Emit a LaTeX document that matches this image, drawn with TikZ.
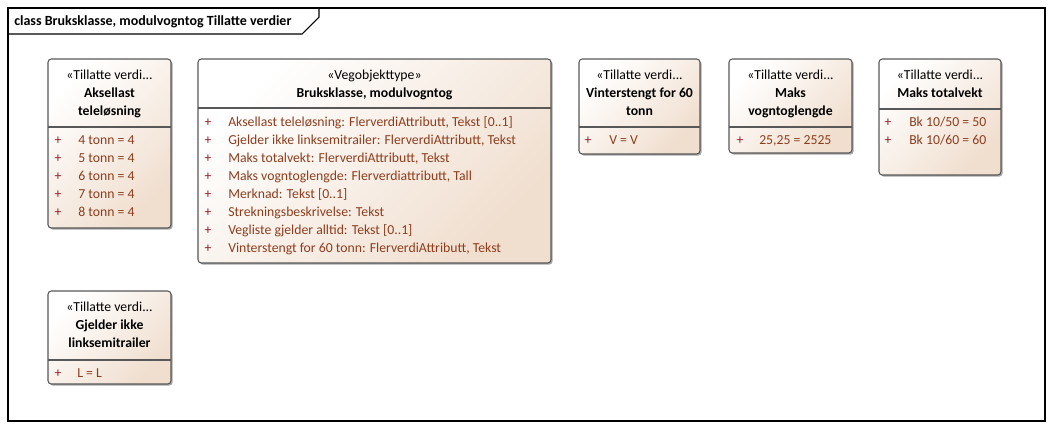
\documentclass[tikz,border=0pt]{standalone}
\usepackage{fontspec}
\setmainfont{Carlito}
\usetikzlibrary{shadows}

\definecolor{boxfill}{RGB}{240,222,206}
\definecolor{boxline}{RGB}{88,88,88}
\definecolor{attrtext}{RGB}{140,62,30}
\definecolor{attrplus}{RGB}{150,30,40}

\begin{document}
\begin{tikzpicture}[x=0.75pt, y=-0.75pt,
		umlbox/.style={draw=boxline, line width=0.8pt, rounded corners=2.5pt,
			top color=white, bottom color=boxfill, shading angle=45,
			drop shadow={shadow xshift=1.2pt, shadow yshift=-1.2pt, fill=black, opacity=0.35}},
		sep/.style={draw=boxline, line width=0.8pt},
		txt/.style={inner sep=0pt, text height=9pt, text depth=2pt, font=\fontsize{10.3}{12}\selectfont},
		stereo/.style={txt},
		title/.style={txt, font=\fontsize{10.3}{12}\selectfont\bfseries},
		plus/.style={txt, text=attrplus},
		attr/.style={txt, anchor=west, text=attrtext}]
			\useasboundingbox (0,0) rectangle (1053,429);
			% frame
			\draw[line width=0.8pt] (8,8) rectangle (1045,421);
			\draw[line width=0.8pt] (8,34) -- (302,34) -- (319,17) -- (319,8);
			\node[txt, anchor=west, font=\fontsize{10.5}{12}\selectfont\bfseries] (frametitle) at (14,21) {class Bruksklasse, modulvogntog Tillatte verdier};
			% Aksellast teleloesning
			\draw[umlbox] (48,59) rectangle (171,228);
			\draw[sep] (48,127) -- (171,127);
			\node[stereo] (aksst) at (109.5,75) {«Tillatte verdi...};
			\node[title] (aksname1) at (109.5,93) {Aksellast};
			\node[title] (aksname2) at (109.5,111) {teleløsning};
			\foreach \v [count=\i] in {4,...,8}
			{
				\node[plus] (aksp\i) at (58,{122+18*\i}) {+};
				\node[attr] (aks\i) at (78,{122+18*\i}) {\v\ tonn = 4};
			}
			% Bruksklasse, modulvogntog
			\draw[umlbox] (198,59) rectangle (551,263);
			\draw[sep] (198,108) -- (551,108);
			\node[stereo] (brkst) at (374.5,75) {«Vegobjekttype»};
			\node[title] (brkname) at (374.5,93) {Bruksklasse, modulvogntog};
			\foreach \a [count=\i] in {{Aksellast teleløsning: FlerverdiAttributt, Tekst [0..1]},
					{Gjelder ikke linksemitrailer: FlerverdiAttributt, Tekst},
					{Maks totalvekt: FlerverdiAttributt, Tekst},
					{Maks vogntoglengde: Flerverdiattributt, Tall},
					{Merknad: Tekst [0..1]},
					{Strekningsbeskrivelse: Tekst},
					{Vegliste gjelder alltid: Tekst [0..1]},
					{Vinterstengt for 60 tonn: FlerverdiAttributt, Tekst}}
			{
				\node[plus] (brkp\i) at (208,{104+18*\i}) {+};
				\node[attr] (brk\i) at (228,{104+18*\i}) {\a};
			}
			% Vinterstengt for 60 tonn
			\draw[umlbox] (579,59) rectangle (700,154);
			\draw[sep] (579,127) -- (700,127);
			\node[stereo] (vinst) at (639.5,75) {«Tillatte verdi...};
			\node[title] (vinname1) at (639.5,93) {Vinterstengt for 60};
			\node[title] (vinname2) at (639.5,111) {tonn};
			\node[plus] (vinp1) at (588,140) {+};
			\node[attr] (vin1) at (609,140) {V = V};
			% Maks vogntoglengde
			\draw[umlbox] (729,59) rectangle (852,153);
			\draw[sep] (729,127) -- (852,127);
			\node[stereo] (lenst) at (790.5,75) {«Tillatte verdi...};
			\node[title] (lenname1) at (790.5,93) {Maks};
			\node[title] (lenname2) at (790.5,111) {vogntoglengde};
			\node[plus] (lenp1) at (740,140) {+};
			\node[attr] (len1) at (759,140) {25,25 = 2525};
			% Maks totalvekt
			\draw[umlbox] (879,59) rectangle (1001,175);
			\draw[sep] (879,109) -- (1001,109);
			\node[stereo] (totst) at (940,75) {«Tillatte verdi...};
			\node[title] (totname) at (940,93) {Maks totalvekt};
			\node[plus] (totp1) at (888,122) {+};
			\node[attr] (tot1) at (909,122) {Bk 10/50 = 50};
			\node[plus] (totp2) at (888,140) {+};
			\node[attr] (tot2) at (909,140) {Bk 10/60 = 60};
			% Gjelder ikke linksemitrailer
			\draw[umlbox] (48,291) rectangle (171,384);
			\draw[sep] (48,360) -- (171,360);
			\node[stereo] (gjest) at (109.5,307) {«Tillatte verdi...};
			\node[title] (gjename1) at (109.5,325) {Gjelder ikke};
			\node[title] (gjename2) at (109.5,343) {linksemitrailer};
			\node[plus] (gjep1) at (58,373) {+};
			\node[attr] (gje1) at (77,373) {L = L};
		\end{tikzpicture}
\end{document}
